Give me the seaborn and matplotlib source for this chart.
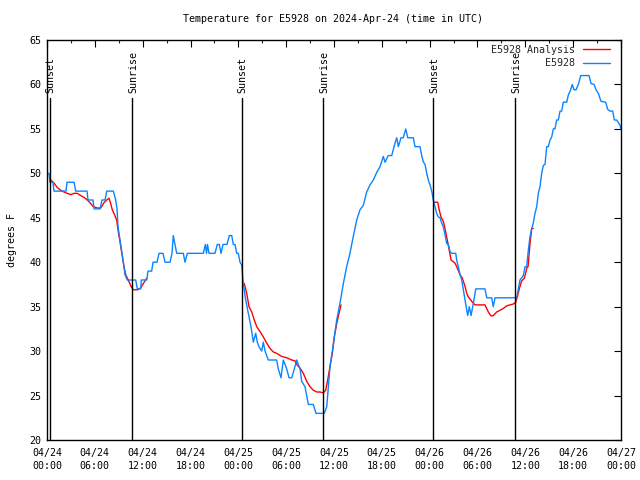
import matplotlib
matplotlib.use("Agg")
import matplotlib.pyplot as plt
import matplotlib.transforms as mtransforms
from matplotlib.lines import Line2D
from matplotlib.ticker import MultipleLocator
import numpy as np
import pandas as pd
import seaborn as sns

# ---------------- data (hours since 2024-04-24 00:00 UTC) ----------------
obs_hours = [0.0, 0.25, 0.38, 0.75, 0.88, 2.38, 2.51, 3.39, 3.60, 5.02, 5.14, 5.77, 5.90,
             6.65, 6.90, 7.28, 7.49, 8.32, 8.62, 8.78, 8.91, 9.24, 9.57, 9.78, 10.07,
             11.13, 11.33, 11.75, 11.83, 12.17, 12.51, 12.67, 13.13, 13.30, 13.80, 14.05,
             14.55, 14.80, 15.43, 15.68, 15.84, 16.06, 16.27, 17.10, 17.31, 17.60, 19.61,
             19.86, 20.01, 20.13, 20.32, 21.07, 21.36, 21.61, 21.83, 22.08, 22.58, 22.87,
             23.17, 23.37, 23.58, 23.80, 24.00, 24.21, 24.42, 24.62, 24.93, 25.25, 25.59,
             25.88, 26.18, 26.38, 26.59, 26.93, 27.13, 27.35, 27.76, 28.81, 29.01, 29.35,
             29.64, 29.86, 30.07, 30.36, 30.70, 31.02, 31.32, 31.52, 31.74, 31.95, 32.36,
             32.78, 33.40, 33.74, 34.78, 35.09, 35.50, 35.79, 36.04, 36.34, 36.75, 37.17,
             37.59, 38.00, 38.42, 38.85, 39.26, 39.68, 40.10, 40.52, 40.93, 41.36, 41.77,
             42.19, 42.40, 42.81, 43.24, 43.65, 43.87, 44.07, 44.41, 44.69, 45.00, 45.25,
             45.95, 46.16, 46.79, 47.00, 47.20, 47.42, 47.63, 47.83, 48.04, 48.26, 48.46,
             48.67, 48.88, 49.08, 49.30, 49.51, 49.71, 49.93, 50.14, 50.34, 50.55, 50.77,
             51.27, 51.39, 51.59, 51.81, 52.02, 52.22, 52.43, 52.65, 52.77, 52.97, 53.19,
             53.40, 53.60, 53.78, 54.94, 55.16, 55.78, 55.98, 56.20, 58.92, 59.12, 59.33,
             59.75, 59.96, 60.17, 60.38, 60.59, 60.80, 61.00, 61.21, 61.43, 61.63, 61.84,
             62.05, 62.26, 62.47, 62.68, 62.88, 63.10, 63.31, 63.51, 63.72, 63.93, 64.14,
             64.35, 64.56, 64.76, 65.19, 65.39, 65.69, 65.89, 66.11, 66.36, 66.65, 66.95,
             67.99, 68.24, 68.62, 68.87, 69.16, 69.49, 70.08, 70.33, 70.62, 70.96, 71.16,
             71.46, 71.67, 71.88, 72.00]
obs_temps = [50, 50, 49, 49, 48, 48, 49, 49, 48, 48, 47, 47, 46,
             46, 47, 47, 48, 48, 47, 46, 44, 42, 40, 38.6, 38,
             38, 37, 37, 38, 38, 38, 39, 39, 40, 40, 41,
             41, 40, 40, 41, 43, 42, 41, 41, 40, 41, 41,
             42, 41, 42, 41, 41, 42, 42, 41, 42, 42, 43,
             43, 42, 42, 41, 41, 40, 39.7, 37.6, 35.75, 34.25, 32.75,
             31, 32, 31, 30.5, 30, 31, 30, 29, 29, 28, 27,
             29, 28.5, 28, 27, 27, 28, 29, 28.5, 28, 26.6, 26,
             24, 24, 23, 23, 23.75, 28.25, 30, 31.6, 33.5, 35.4, 37.6,
             39.5, 41, 42.9, 44.75, 45.9, 46.4, 47.9, 48.7, 49.25, 50.1, 50.75,
             51.9, 51.25, 52, 52, 53.4, 54, 53, 54, 54, 55, 54,
             54, 53, 53, 52, 51.3, 51, 50, 49.25, 48.7, 48, 47,
             46.25, 45.5, 45.1, 45, 44.4, 44, 43.1, 42.1, 42, 41.2, 41,
             41, 40.25, 39.5, 38.6, 38, 36.9, 35.75, 34.6, 34, 35, 34,
             35, 36, 37, 37, 36, 36, 35, 36, 36, 37, 38,
             38.5, 39.5, 39.5, 41.4, 42.9, 43.8, 44.4, 45.5, 46.25, 47.75, 48.5,
             50, 50.9, 51, 53, 53, 53.75, 54.1, 55, 55, 56, 56,
             57, 57, 58, 58, 58.8, 59.4, 60, 59.4, 59.4, 60, 61,
             61, 60.1, 60, 59.4, 59, 58.1, 58, 57.2, 57, 57, 56,
             56, 55.7, 55.4, 55]

ana1_hours = [0.54, 0.88, 1.29, 1.72, 2.13, 2.55, 2.97, 3.39, 3.80, 4.23, 4.64, 5.06, 5.48,
              5.81, 6.31, 6.74, 7.15, 7.49, 7.78, 7.99, 8.19, 8.49, 8.74, 8.91, 9.16, 9.37,
              9.66, 9.87, 10.29, 10.57, 10.83, 11.33, 11.75, 12.08, 12.51]
ana1_temps = [49.2, 48.9, 48.4, 48.1, 47.9, 47.75, 47.6, 47.75, 47.75, 47.5, 47.3, 47.0, 46.6,
              46.25, 46.1, 46.1, 46.7, 47.0, 47.2, 46.6, 45.9, 45.3, 44.75, 43.6, 42.3, 41.1,
              39.5, 38.6, 37.8, 37.25, 36.9, 36.9, 37.1, 37.6, 38.2]
ana2_hours = [24.75, 25.05, 25.34, 25.68, 26.00, 26.31, 26.72, 27.13, 27.56, 27.97, 28.39,
              28.81, 29.44, 30.07, 30.70, 31.11, 31.40, 31.74, 32.15, 32.58, 32.99, 33.40,
              33.83, 34.25, 34.66, 34.96, 35.21, 35.50, 35.79, 36.04, 36.34, 36.63, 36.88]
ana2_temps = [37.6, 36.5, 35.0, 34.4, 33.5, 32.75, 32.2, 31.6, 30.9, 30.3, 29.9,
              29.75, 29.4, 29.25, 29.0, 28.9, 28.4, 28.1, 27.5, 26.6, 26.0, 25.6,
              25.4, 25.4, 25.3, 25.6, 26.75, 28.3, 29.75, 31.6, 33.1, 34.25, 35.2]
ana3_hours = [48.54, 49.01, 49.17, 49.42, 49.71, 49.93, 50.14, 50.34, 50.68, 51.18, 51.39,
              51.81, 52.10, 52.43, 52.65, 52.85, 53.27, 53.69, 54.94, 55.36, 55.70, 55.98,
              56.41, 56.83, 57.24, 57.66, 58.08, 58.49, 58.79, 58.99, 59.24, 59.54, 59.87,
              59.96, 60.21, 60.34, 60.59, 60.80, 61.00]
ana3_temps = [46.75, 46.75, 46.0, 45.1, 44.6, 43.75, 42.8, 41.9, 40.25, 39.9, 39.5,
              38.6, 38.2, 37.3, 36.5, 36.1, 35.6, 35.2, 35.2, 34.4, 33.95, 34.0,
              34.4, 34.6, 34.8, 35.1, 35.2, 35.3, 35.5, 36.1, 37.0, 37.9, 38.2,
              38.5, 39.4, 39.5, 42.1, 43.8, 43.8]

event_hours = [0.35, 10.72, 24.4, 34.65, 48.45, 58.75]
event_labels = ["Sunset", "Sunrise", "Sunset", "Sunrise", "Sunset", "Sunrise"]

tick_hours = list(range(0, 73, 6))
tick_dates = ["04/24", "04/24", "04/24", "04/24", "04/25", "04/25", "04/25",
              "04/25", "04/26", "04/26", "04/26", "04/26", "04/27"]
tick_times = ["00:00", "06:00", "12:00", "18:00", "00:00", "06:00", "12:00",
              "18:00", "00:00", "06:00", "12:00", "18:00", "00:00"]

title = "Temperature for E5928 on 2024-Apr-24 (time in UTC)"
ylabel = "degrees F"
series_obs = "E5928"
series_ana = "E5928 Analysis"

# ---------------- styling ----------------
sns.set_theme(style="white")
plt.rcParams["font.family"] = ["DejaVu Sans Mono", "DejaVu Sans"]
FS = 7.2
BLUE = "#0a84ff"
RED = "#ff0000"

fig = plt.figure(figsize=(6.4, 4.8), dpi=100)
ax = fig.add_axes([47 / 640, 40 / 480, 574 / 640, 400 / 480])

obs = pd.DataFrame({"hour": obs_hours, "temp": obs_temps})
for hrs, tmps in [(ana1_hours, ana1_temps), (ana2_hours, ana2_temps), (ana3_hours, ana3_temps)]:
    seg = pd.DataFrame({"hour": hrs, "temp": tmps})
    sns.lineplot(data=seg, x="hour", y="temp", ax=ax, color=RED, lw=1.0,
                 estimator=None, sort=False)
sns.lineplot(data=obs, x="hour", y="temp", ax=ax, color=BLUE, lw=1.0,
             estimator=None, sort=False)

trans = mtransforms.blended_transform_factory(ax.transData, ax.transAxes)
for h, lab in zip(event_hours, event_labels):
    ax.plot([h, h], [0, 0.855], transform=trans, color="black", lw=1.0)
    ax.text(h + 0.1, 0.868, lab, transform=trans, rotation=90, ha="center", va="bottom",
            fontsize=FS, color="black")

ax.set_xlim(0, 72)
ax.set_ylim(20, 65)
ax.set_xticks(tick_hours)
ax.set_xticklabels([f"{d}\n{t}" for d, t in zip(tick_dates, tick_times)], fontsize=FS,
                   linespacing=1.35)
ax.xaxis.set_minor_locator(MultipleLocator(3))
ax.yaxis.set_major_locator(MultipleLocator(5))
ax.tick_params(axis="both", which="major", direction="in", length=5, width=0.8,
               top=True, right=True, labelsize=FS, pad=4, colors="black")
ax.tick_params(axis="both", which="minor", direction="in", length=2.5, width=0.8,
               top=True, right=True)
ax.tick_params(axis="x", which="major", pad=6)
for s in ax.spines.values():
    s.set_color("black")
    s.set_linewidth(1.0)

ax.set_xlabel("")
ax.set_ylabel(ylabel, fontsize=FS, color="black", labelpad=9)
fig.text(333 / 640, 1 - 19 / 480, title, ha="center", va="center", fontsize=FS, color="black")

handles = [Line2D([], [], color=RED, lw=1.0), Line2D([], [], color=BLUE, lw=1.0)]
ax.legend(handles, [series_ana, series_obs], loc="upper right", frameon=False,
          markerfirst=False, fontsize=FS, handlelength=2.7, handletextpad=0.8,
          labelspacing=0.35, borderaxespad=0.1, bbox_to_anchor=(0.9895, 1.0))

fig.savefig("out.png", dpi=100)
